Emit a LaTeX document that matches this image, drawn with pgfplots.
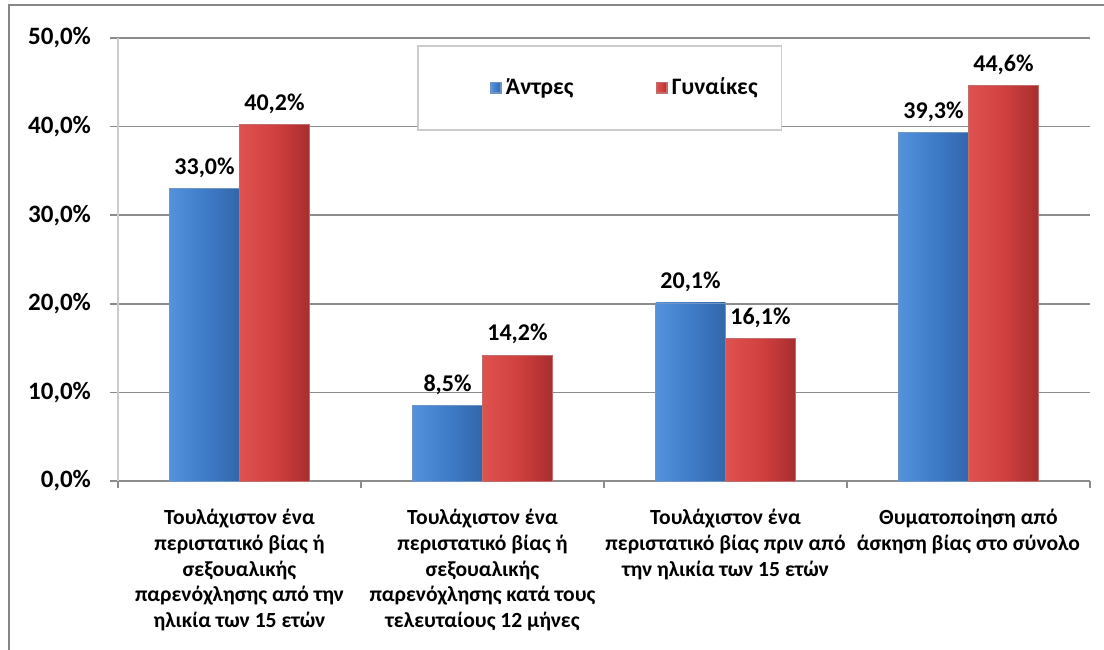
\documentclass[border=0pt]{standalone}
\usepackage{pgfplots}
\pgfplotsset{compat=1.18}
\usepackage{fontspec}
\setmainfont{Carlito}

\definecolor{blueL}{HTML}{5592DC}
\definecolor{blueM}{HTML}{3F7CC8}
\definecolor{blueD}{HTML}{3366AA}
\definecolor{redL}{HTML}{DE5250}
\definecolor{redM}{HTML}{D0403F}
\definecolor{redD}{HTML}{A82E2E}
\definecolor{gridgray}{HTML}{8C8C8C}
\definecolor{framegray}{HTML}{868686}

\pgfplotsset{
  menbar/.style={bar shift=-0.144, draw=blueD!70, left color=blueL, right color=blueD, middle color=blueM},
  womenbar/.style={bar shift=0.144, draw=redD!70, left color=redL, right color=redD, middle color=redM},
}

\begin{document}
\begin{tikzpicture}
\useasboundingbox (0,0) rectangle (552pt,324.5pt);
\draw[framegray, line width=0.8pt] (4.5pt,-10pt) -- (4.5pt,322pt) -- (570pt,322pt);
\begin{axis}[
    at={(59pt,84pt)}, anchor=south west,
    scale only axis,
    width=486pt, height=221.5pt,
    xmin=-0.5, xmax=3.5,
    ymin=0, ymax=50,
    /pgf/number format/assume math mode=true,
    ytick={0,10,...,50},
    yticklabel={\pgfmathprintnumber[fixed,zerofill,precision=1,use comma]{\tick}\%},
    yticklabel style={font=\fontsize{12.5}{14}\selectfont\bfseries, xshift=-6pt},
    ymajorgrids,
    grid style={gridgray, line width=0.8pt},
    xtick={0,1,2,3},
    xticklabels={
      {Τουλάχιστον ένα\\περιστατικό βίας ή\\σεξουαλικής\\παρενόχλησης από την\\ηλικία των 15 ετών},
      {Τουλάχιστον ένα\\περιστατικό βίας ή\\σεξουαλικής\\παρενόχλησης κατά τους\\τελευταίους 12 μήνες},
      {Τουλάχιστον ένα\\περιστατικό βίας πριν από\\την ηλικία των 15 ετών},
      {Θυματοποίηση από\\άσκηση βίας στο σύνολο}},
    xticklabel style={font=\fontsize{10.8}{12.9}\selectfont\bfseries, align=center, text depth=0pt, yshift=-6.5pt},
    minor xtick={-0.5,0.5,1.5,2.5,3.5},
    major x tick style={draw=none},
    minor tick length=3.5pt,
    major tick length=4pt,
    tick align=outside,
    tick pos=left,
    axis x line*=bottom,
    axis y line*=left,
    x axis line style={gridgray, line width=0.8pt},
    y axis line style={black!20, line width=0.8pt},
    ytick style={gridgray, line width=0.8pt},
    minor x tick style={gridgray, line width=0.8pt},
    clip=false,
    ybar, bar width=0.288,
    nodes near coords={\pgfmathprintnumber[fixed,zerofill,precision=1,use comma,assume math mode=true]{\pgfplotspointmeta}\%},
    every node near coord/.append style={font=\fontsize{12}{14}\selectfont\bfseries, yshift=2pt},
    legend style={at={(0.3076,0.984)}, anchor=north west, draw=black!20,
      line width=0.8pt,
      inner xsep=10pt, inner ysep=14pt,
      font=\fontsize{11.8}{13}\selectfont\bfseries,
      /tikz/every even column/.append style={column sep=13pt}},
    legend columns=2,
    legend image code/.code={%
      \pgfpathmoveto{\pgfpointorigin}\pgfusepath{discard}%
      \fill[#1] (26.5pt,-2.6pt) rectangle (31.7pt,2.6pt);},
]
% each bar its own plot so that every bar gets its own shading
\addplot[menbar] coordinates {(0,33.0)};
\addplot[womenbar] coordinates {(0,40.2)};
\addplot[menbar, forget plot] coordinates {(1,8.5)};
\addplot[menbar, forget plot] coordinates {(2,20.1)};
\addplot[menbar, forget plot] coordinates {(3,39.3)};
\addplot[womenbar, forget plot] coordinates {(1,14.2)};
\addplot[womenbar, forget plot] coordinates {(2,16.1)};
\addplot[womenbar, forget plot] coordinates {(3,44.6)};
\legend{Άντρες, Γυναίκες}
\end{axis}
\end{tikzpicture}
\end{document}
